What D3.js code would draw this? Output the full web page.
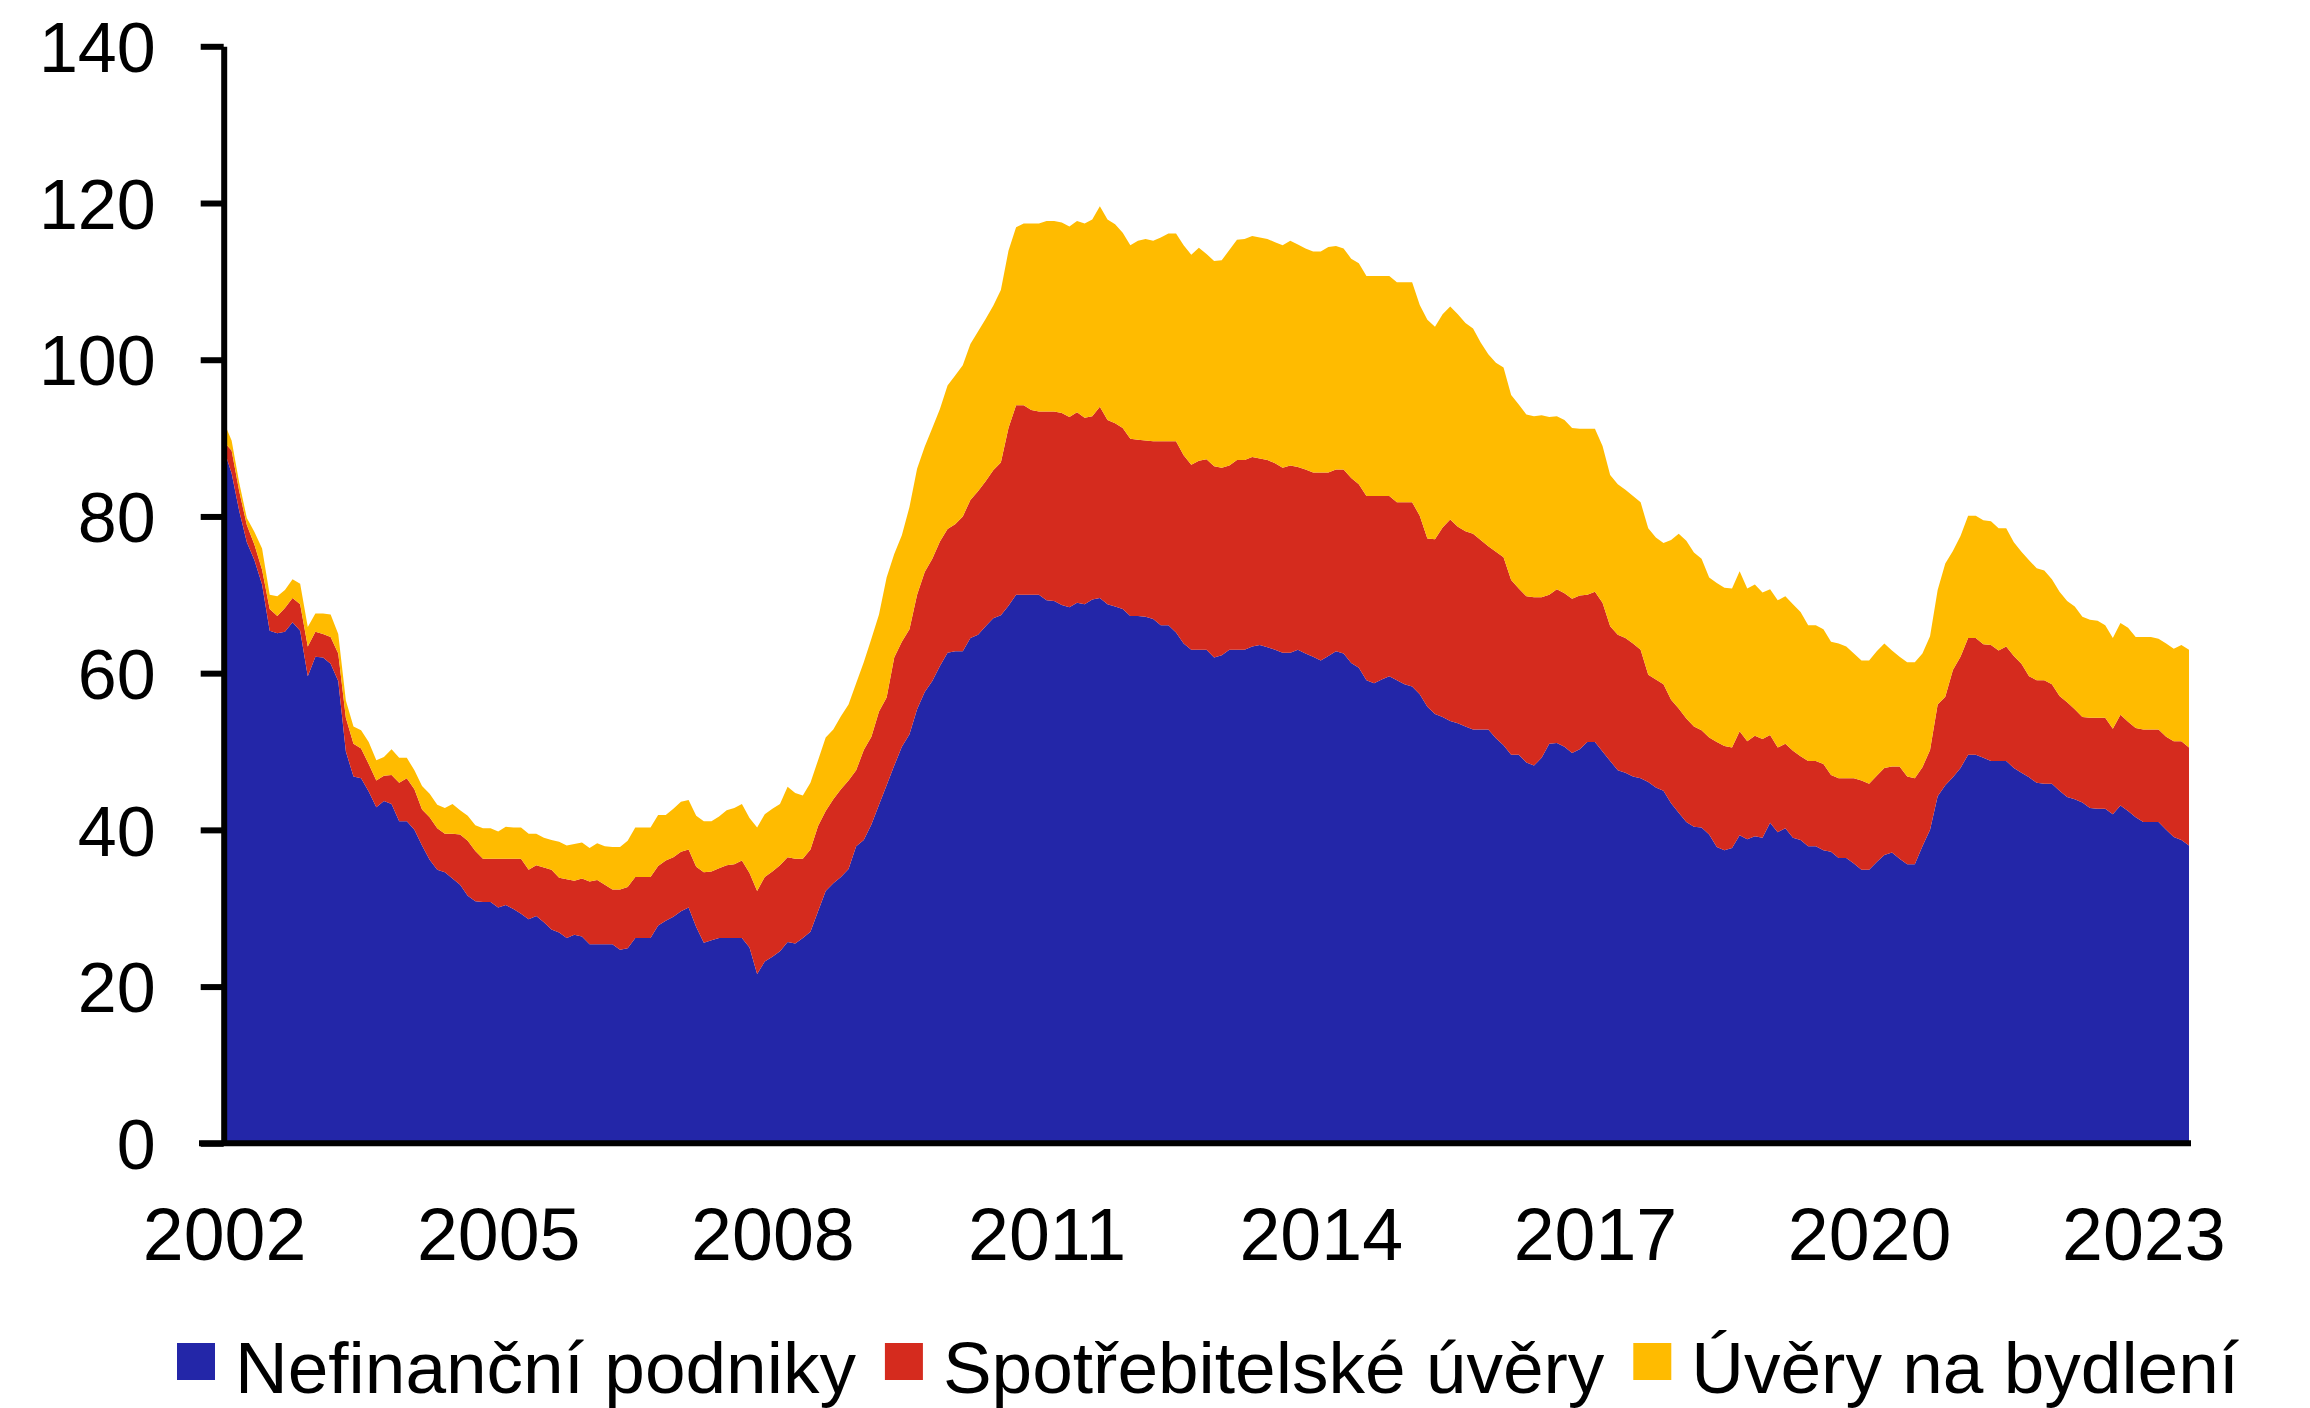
<!DOCTYPE html>
<html>
<head>
<meta charset="utf-8">
<script src="https://cdn.jsdelivr.net/npm/d3@7"></script>
<style>
  body { margin: 0; background: #fff; }
  text { font-family: "Liberation Sans", Arial, sans-serif; fill: #000; }
</style>
</head>
<body>
<div id="chart"></div>
<script>
// chart size
var width = 2310;
var height = 1408;

// monthly values, Jan 2002 .. Jul 2023
var nefinancni = [
  88.5, 85.5, 80.7, 76.7, 74.4, 71.3, 65.4, 65.1, 65.3, 66.5,
  65.4, 59.6, 62.1, 62.0, 61.2, 59.0, 50.0, 46.8, 46.6, 44.9,
  42.9, 43.7, 43.3, 41.1, 41.1, 40.0, 38.0, 36.2, 34.9, 34.6,
  33.8, 33.0, 31.6, 30.9, 30.8, 30.8, 30.1, 30.4, 29.9, 29.3,
  28.6, 29.0, 28.2, 27.3, 26.9, 26.2, 26.6, 26.4, 25.4, 25.4,
  25.4, 25.4, 24.7, 24.9, 26.2, 26.2, 26.2, 27.8, 28.4, 28.9,
  29.6, 30.1, 27.6, 25.6, 25.9, 26.2, 26.2, 26.2, 26.2, 25.0,
  21.6, 23.2, 23.8, 24.5, 25.7, 25.5, 26.2, 27.0, 29.6, 32.2,
  33.2, 34.0, 35.0, 37.9, 38.7, 40.7, 43.2, 45.7, 48.2, 50.6,
  52.2, 55.4, 57.6, 59.0, 60.9, 62.6, 62.8, 62.8, 64.5, 64.9,
  66.0, 67.0, 67.4, 68.6, 70.0, 70.0, 70.0, 70.0, 69.3, 69.2,
  68.7, 68.4, 69.0, 68.8, 69.4, 69.6, 68.8, 68.5, 68.2, 67.3,
  67.3, 67.2, 66.9, 66.1, 66.1, 65.2, 63.8, 63.0, 63.0, 63.0,
  62.0, 62.3, 63.0, 63.0, 63.0, 63.4, 63.6, 63.3, 63.0, 62.6,
  62.6, 63.0, 62.5, 62.1, 61.6, 62.2, 62.8, 62.5, 61.3, 60.7,
  59.1, 58.7, 59.2, 59.6, 59.1, 58.6, 58.3, 57.3, 55.7, 54.8,
  54.4, 53.9, 53.6, 53.2, 52.8, 52.8, 52.8, 51.7, 50.8, 49.6,
  49.6, 48.6, 48.2, 49.2, 51.0, 51.1, 50.6, 49.8, 50.3, 51.2,
  51.2, 50.0, 48.8, 47.6, 47.3, 46.8, 46.6, 46.1, 45.4, 45.0,
  43.4, 42.2, 41.0, 40.4, 40.3, 39.4, 37.8, 37.4, 37.7, 39.3,
  38.8, 39.2, 39.0, 40.9, 39.7, 40.2, 39.0, 38.7, 37.9, 37.9,
  37.4, 37.2, 36.4, 36.4, 35.7, 34.9, 34.9, 35.9, 36.8, 37.1,
  36.3, 35.6, 35.6, 37.9, 40.0, 44.3, 45.7, 46.7, 47.9, 49.6,
  49.6, 49.2, 48.8, 48.8, 48.8, 47.9, 47.3, 46.7, 46.0, 45.9,
  45.9, 45.0, 44.2, 43.9, 43.5, 42.8, 42.7, 42.7, 42.0, 43.1,
  42.4, 41.6, 41.0, 41.0, 41.0, 40.0, 39.1, 38.7, 38.0
];

var spotrebitelske = [
  1.0, 2.9, 2.5, 2.2, 2.0, 1.9, 2.8, 2.2, 3.0, 3.1,
  3.4, 3.8, 3.2, 3.0, 3.4, 3.5, 4.3, 4.2, 3.8, 3.5,
  3.4, 3.2, 3.7, 4.9, 5.5, 5.2, 4.6, 5.4, 5.3, 4.9,
  5.7, 6.4, 7.0, 6.4, 5.5, 5.5, 6.2, 5.9, 6.4, 7.0,
  6.3, 6.5, 7.0, 7.6, 7.0, 7.5, 6.9, 7.4, 8.0, 8.2,
  7.6, 7.0, 7.7, 7.8, 7.8, 7.8, 7.8, 7.6, 7.7, 7.6,
  7.6, 7.4, 7.7, 9.0, 8.8, 8.9, 9.3, 9.4, 9.9, 9.5,
  10.6, 10.8, 10.9, 11.0, 10.8, 10.8, 10.1, 10.5, 10.9, 10.2,
  10.7, 11.2, 11.3, 9.7, 11.5, 11.2, 11.9, 11.2, 13.8, 13.4,
  13.4, 14.6, 15.3, 15.6, 15.9, 15.8, 16.2, 17.2, 17.6, 18.3,
  18.5, 18.9, 19.5, 22.7, 24.2, 24.2, 23.6, 23.4, 24.1, 24.2,
  24.5, 24.3, 24.3, 23.8, 23.4, 24.4, 23.5, 23.4, 23.1, 22.6,
  22.5, 22.5, 22.7, 23.5, 23.5, 24.4, 24.0, 23.6, 24.1, 24.3,
  24.4, 23.9, 23.5, 24.2, 24.2, 24.2, 23.8, 23.9, 23.8, 23.6,
  23.9, 23.3, 23.5, 23.5, 24.0, 23.4, 23.2, 23.5, 23.6, 23.4,
  23.5, 23.9, 23.4, 23.0, 22.7, 23.2, 23.5, 22.8, 21.5, 22.3,
  24.2, 25.7, 25.1, 24.9, 25.0, 24.2, 23.4, 23.8, 24.0, 22.3,
  21.2, 21.2, 21.5, 20.5, 19.0, 19.6, 19.6, 19.7, 19.6, 18.8,
  19.2, 19.0, 17.2, 17.3, 17.2, 17.0, 16.4, 13.7, 13.8, 13.6,
  13.2, 13.3, 13.2, 12.8, 12.4, 12.4, 13.4, 13.3, 12.8, 13.3,
  12.5, 12.8, 12.6, 11.2, 10.8, 10.8, 11.1, 10.7, 10.9, 10.9,
  11.0, 9.8, 10.2, 10.2, 10.9, 11.4, 11.0, 11.0, 11.1, 11.0,
  11.8, 11.2, 11.0, 10.1, 10.2, 11.7, 11.3, 13.7, 14.2, 14.9,
  14.9, 14.5, 14.8, 14.1, 14.6, 14.3, 13.9, 12.9, 13.1, 13.2,
  12.7, 12.1, 12.1, 11.5, 10.9, 11.5, 11.6, 11.6, 10.9, 11.6,
  11.4, 11.4, 11.8, 11.8, 11.8, 11.9, 12.2, 12.6, 12.5
];

var bydleni = [
  2.5, 1.3, 1.1, 0.9, 1.6, 2.7, 1.8, 2.5, 2.3, 2.4,
  2.6, 2.5, 2.3, 2.6, 2.9, 2.5, 2.2, 2.2, 2.3, 2.8,
  2.6, 2.4, 3.3, 3.2, 2.6, 2.4, 3.0, 3.0, 3.0, 3.3,
  3.8, 3.1, 3.2, 3.3, 3.9, 3.9, 3.5, 4.1, 4.0, 4.0,
  4.6, 4.0, 3.8, 3.8, 4.6, 4.3, 4.7, 4.6, 4.3, 4.7,
  4.9, 5.4, 5.4, 5.9, 6.3, 6.3, 6.3, 6.5, 5.8, 6.2,
  6.4, 6.3, 6.5, 6.5, 6.4, 6.6, 7.0, 7.2, 7.2, 7.0,
  8.1, 8.0, 8.0, 7.8, 9.0, 8.4, 8.1, 8.5, 8.4, 9.4,
  8.9, 9.3, 9.7, 11.1, 11.2, 12.5, 12.4, 15.3, 13.2, 13.6,
  15.6, 16.1, 16.0, 16.7, 16.9, 18.3, 19.0, 19.3, 19.9, 20.4,
  20.7, 21.0, 22.0, 22.6, 22.7, 23.2, 23.8, 24.0, 24.3, 24.3,
  24.3, 24.3, 24.4, 24.8, 25.1, 25.6, 25.6, 25.4, 24.9, 24.7,
  25.4, 25.7, 25.6, 26.0, 26.5, 26.5, 26.8, 26.8, 27.2, 26.2,
  26.2, 26.5, 27.5, 28.1, 28.2, 28.2, 28.2, 28.2, 28.2, 28.4,
  28.7, 28.4, 28.2, 28.2, 28.2, 28.8, 28.5, 28.2, 28.0, 28.2,
  28.1, 28.1, 28.1, 28.1, 28.1, 28.1, 28.1, 26.9, 27.9, 27.1,
  27.2, 27.2, 27.1, 26.6, 26.2, 25.2, 24.5, 24.1, 24.2, 23.6,
  23.5, 23.2, 23.1, 23.2, 22.7, 22.1, 22.1, 21.8, 21.3, 21.2,
  20.8, 20.0, 19.3, 19.2, 18.9, 18.8, 18.8, 18.7, 18.1, 18.0,
  20.4, 22.3, 22.7, 22.2, 21.9, 20.4, 20.3, 20.2, 20.3, 20.4,
  19.5, 19.3, 18.7, 18.6, 18.8, 18.8, 18.7, 18.4, 17.3, 17.3,
  17.2, 17.0, 17.2, 16.8, 15.9, 15.3, 15.7, 15.9, 15.9, 14.8,
  14.0, 14.6, 14.8, 14.5, 14.5, 14.6, 17.0, 15.2, 15.4, 15.6,
  15.6, 15.8, 15.8, 15.6, 15.1, 14.5, 14.3, 14.8, 14.3, 14.0,
  13.4, 13.3, 12.9, 13.1, 12.8, 12.5, 12.4, 11.8, 11.6, 11.7,
  12.0, 11.6, 11.8, 11.8, 11.6, 11.9, 11.8, 12.3, 12.5
];

// axis labels
var yearLabels = ["2002", "2005", "2008", "2011", "2014", "2017", "2020", "2023"];
var yTicks = [0, 20, 40, 60, 80, 100, 120, 140];

// series names and colours
var seriesNames = ["Nefinanční podniky", "Spotřebitelské úvěry", "Úvěry na bydlení"];
var seriesColors = ["#2326a8", "#d52b1e", "#ffbb00"];

// build table for the stack
var keys = ["nef", "spo", "byd"];
var rows = nefinancni.map(function(v, i) {
  return { i: i, nef: v, spo: spotrebitelske[i], byd: bydleni[i] };
});

var svg = d3
  .select("#chart")
  .append("svg")
  .attr("width", width)
  .attr("height", height);

// scales
var x = d3.scaleLinear()
  .domain([0, rows.length - 1])
  .range([224, 2189]);

var y = d3.scaleLinear()
  .domain([0, 140])
  .range([1143.3, 46.3]);

var stack = d3.stack().keys(keys);
var layers = stack(rows);

var area = d3.area()
  .x(function(d) { return x(d.data.i); })
  .y0(function(d) { return y(d[0]); })
  .y1(function(d) { return y(d[1]); });

svg.append("g")
  .selectAll("path")
  .data(layers)
  .enter()
  .append("path")
  .attr("d", area)
  .attr("fill", function(d, i) { return seriesColors[i]; });

// y axis
var yAxis = svg.append("g")
  .attr("transform", "translate(223.7,0)")
  .call(d3.axisLeft(y).tickValues(yTicks).tickSize(23).tickSizeOuter(0).tickPadding(45));

yAxis.select(".domain").attr("stroke", "#000").attr("stroke-width", 6);
yAxis.selectAll(".tick line").attr("stroke", "#000").attr("stroke-width", 6);
yAxis.selectAll(".tick text")
  .attr("font-size", 70)
  .attr("dy", "0.36em")
  .style("font-family", "'Liberation Sans', Arial, sans-serif");

// x axis (labels every 36 months)
var xAxis = svg.append("g")
  .attr("transform", "translate(0,1143.3)")
  .call(d3.axisBottom(x)
    .tickValues(yearLabels.map(function(d, i) { return i * 36; }))
    .tickFormat(function(d) { return yearLabels[d / 36]; })
    .tickSize(0)
    .tickPadding(65));

xAxis.select(".domain").remove();
xAxis.selectAll(".tick text")
  .attr("font-size", 73.5)
  .style("font-family", "'Liberation Sans', Arial, sans-serif");

// baseline
svg.append("line")
  .attr("x1", 199)
  .attr("x2", 2191)
  .attr("y1", 1143.3)
  .attr("y2", 1143.3)
  .attr("stroke", "#000")
  .attr("stroke-width", 6);

// legend
var legend = svg.append("g").attr("class", "legend");
var lx = 177;
seriesNames.forEach(function(name, i) {
  legend.append("rect")
    .attr("x", lx)
    .attr("y", 1343)
    .attr("width", 38)
    .attr("height", 37)
    .attr("fill", seriesColors[i]);
  var t = legend.append("text")
    .attr("x", lx + 58)
    .attr("y", 1393)
    .attr("font-size", 73)
    .text(name);
  lx = lx + 58 + t.node().getComputedTextLength() + 29;
});
</script>
</body>
</html>
